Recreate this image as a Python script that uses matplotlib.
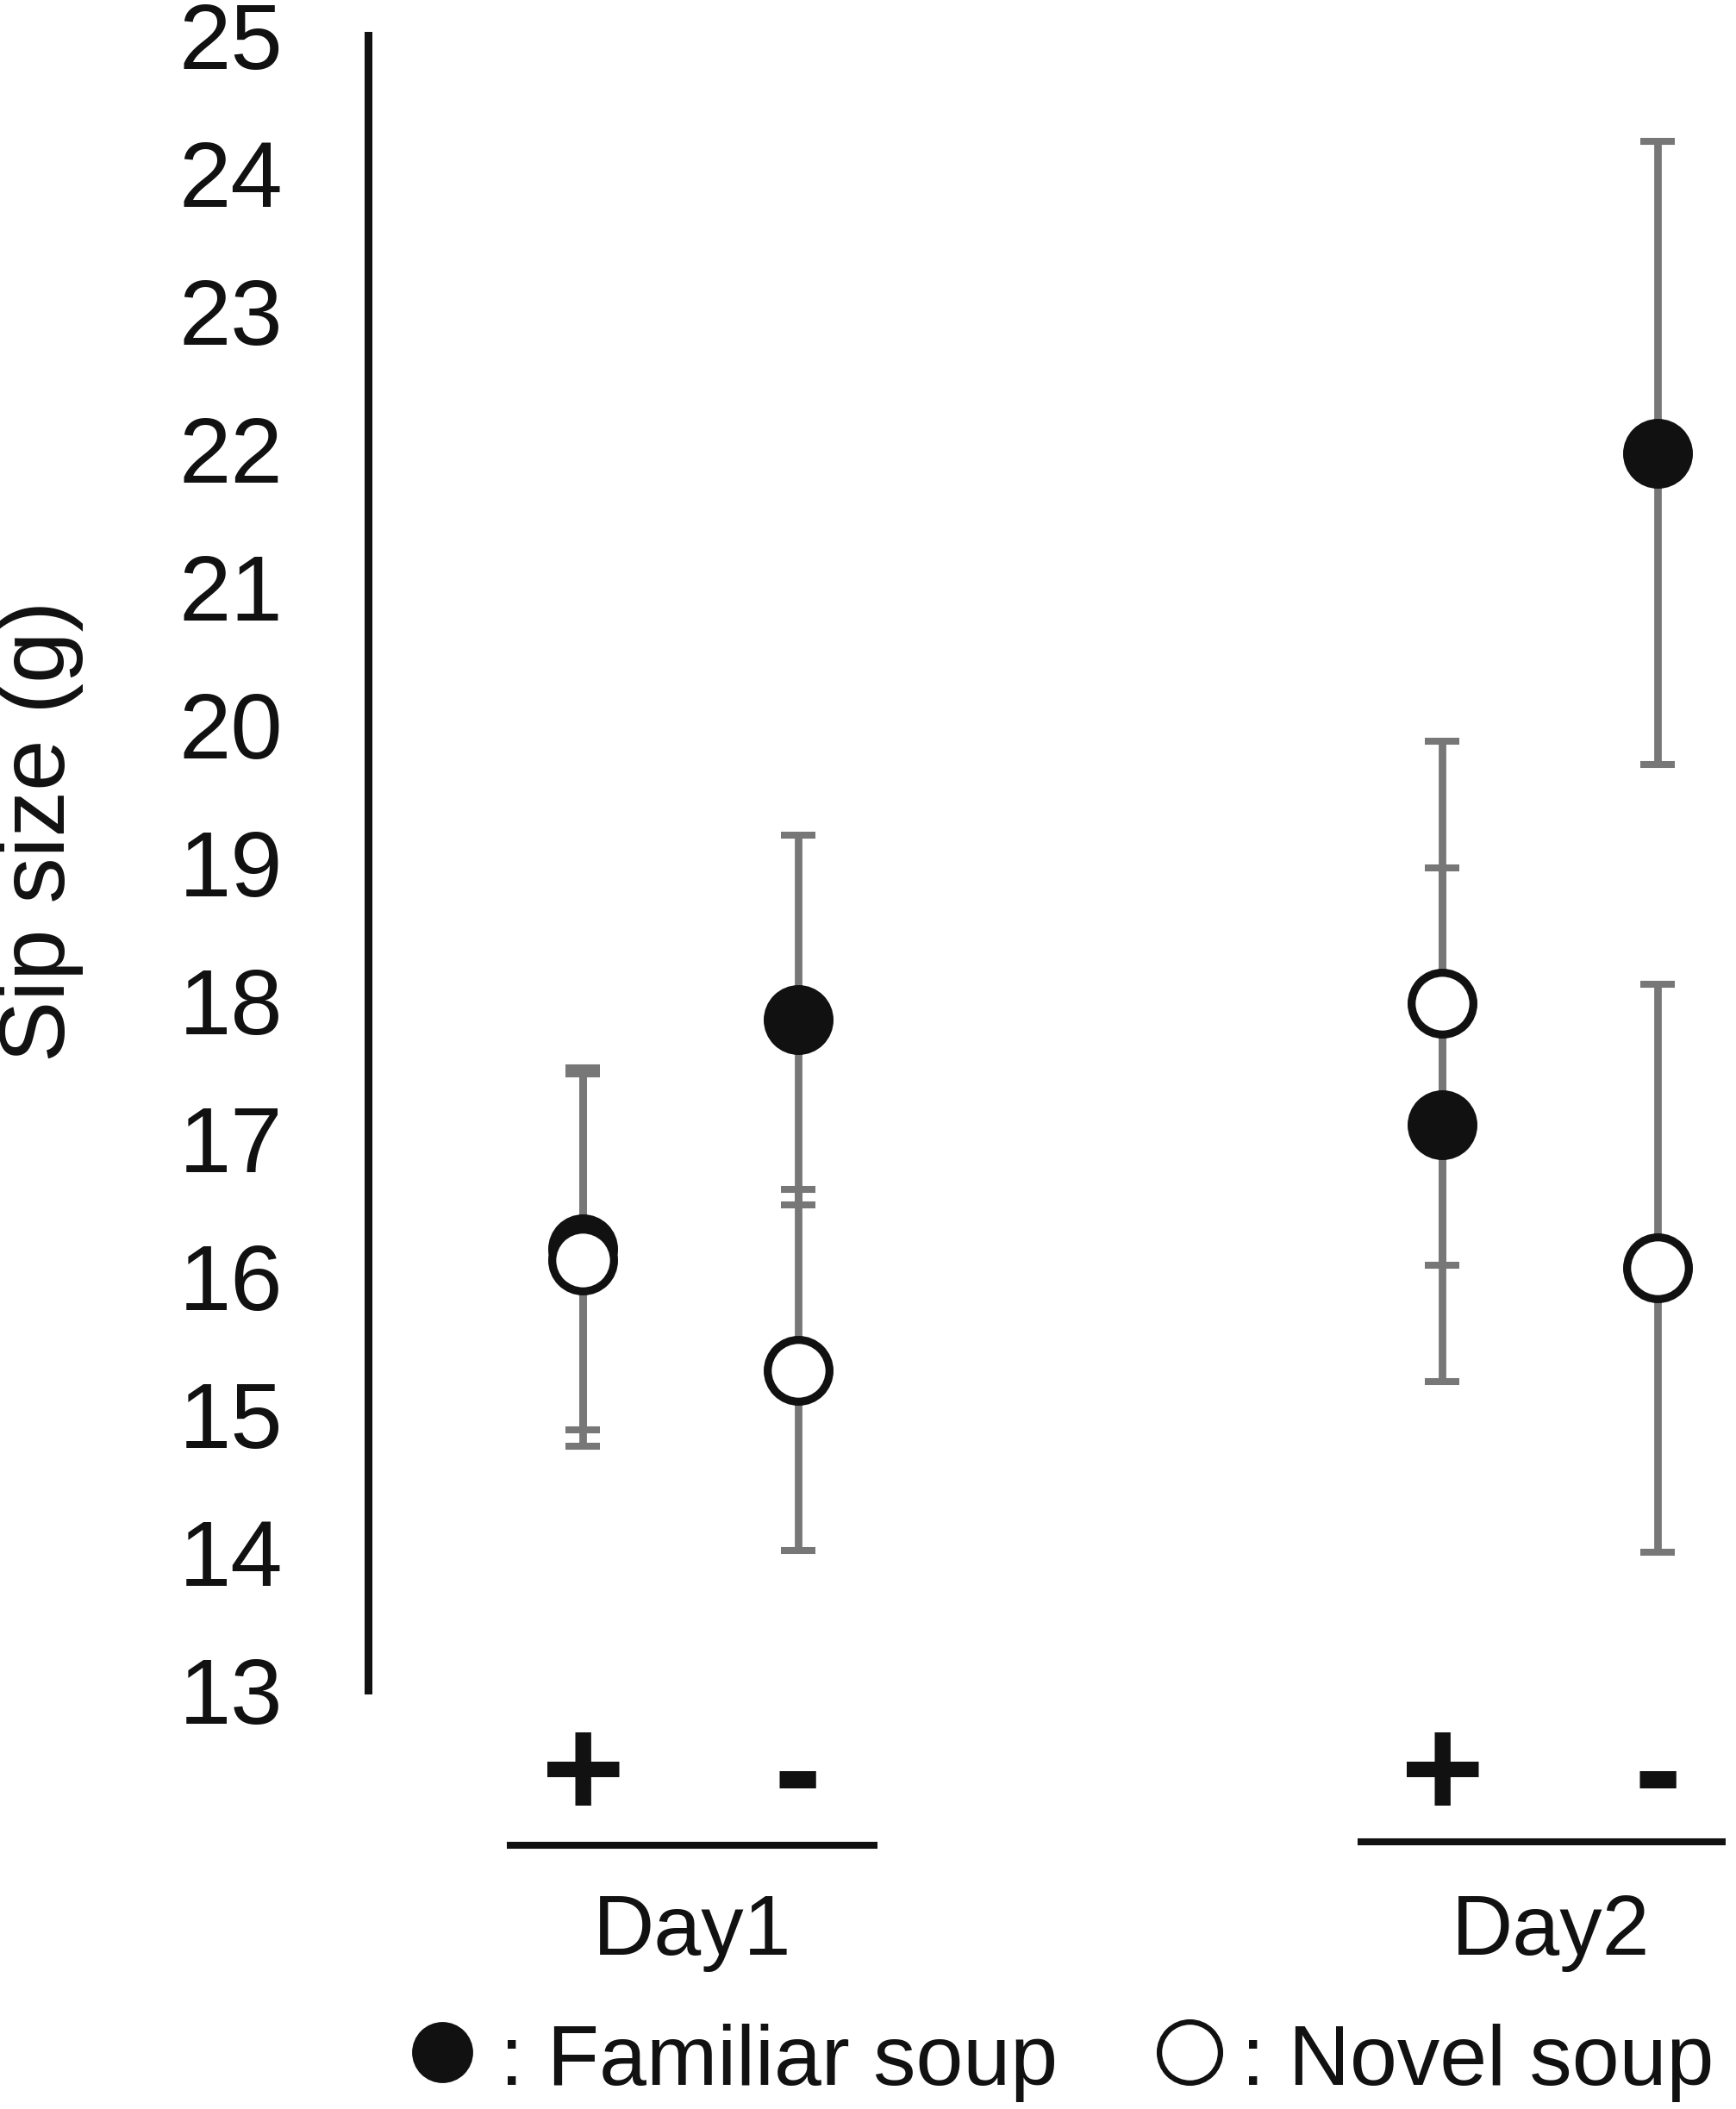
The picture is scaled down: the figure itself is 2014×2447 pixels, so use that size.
import matplotlib
matplotlib.use("Agg")
import matplotlib.pyplot as plt
from matplotlib.lines import Line2D
import matplotlib.transforms as mtransforms

plt.rcParams['font.family'] = ['Liberation Sans', 'DejaVu Sans']

# ---- data ----
positions = [1, 2, 5, 6]              # Day1 +, Day1 -, Day2 +, Day2 -
cond_labels = ['+', '-', '+', '-']
days = ['Day1', 'Day2']
familiar_mean = [16.20, 17.86, 17.10, 21.97]
familiar_err = [1.31, 1.34, 1.86, 2.26]
novel_mean = [16.12, 15.32, 17.98, 16.06]
novel_err = [1.35, 1.31, 1.90, 2.06]
yticks = list(range(13, 26))

W, H = 2015, 2447
fig = plt.figure(figsize=(W / 100, H / 100), dpi=100)
ax_left = 427 / W
ax_bottom = 1 - 1961 / H
ax_top = 1 - 41 / H
ax = fig.add_axes([ax_left, ax_bottom, 1 - ax_left, ax_top - ax_bottom])
ax.set_xlim(0, 6.37)
ax.set_ylim(13, 25)

BLACK = '#111111'
GREY = '#777777'

for sp in ['top', 'right', 'bottom']:
    ax.spines[sp].set_visible(False)
ax.spines['left'].set_linewidth(6.5)
ax.spines['left'].set_color(BLACK)
ax.set_xticks([])
ax.set_yticks(yticks)
ax.set_yticklabels([str(t) for t in yticks])
ax.tick_params(axis='y', length=0, pad=71, labelsize=78, labelcolor=BLACK)

# y-axis title
fig.text(47 / W, 1 - 964 / H, 'Sip size (g)', rotation=90, ha='center',
         va='center', fontsize=77, color=BLACK)

# error bars
ekw = dict(fmt='none', ecolor=GREY, elinewidth=6.3, capsize=14.4, capthick=5.8, zorder=1)
ax.errorbar(positions, familiar_mean, yerr=familiar_err, **ekw)
ax.errorbar(positions, novel_mean, yerr=novel_err, **ekw)

# markers
ax.plot(positions, familiar_mean, 'o', ms=51.6, mfc=BLACK, mec=BLACK, mew=6.7,
        ls='none', zorder=3, clip_on=False)
ax.plot(positions, novel_mean, 'o', ms=51.6, mfc='white', mec=BLACK, mew=6.7,
        ls='none', zorder=4, clip_on=False)

# condition labels (+ / -)
trans = mtransforms.blended_transform_factory(ax.transData, fig.transFigure)
for p, lab in zip(positions, cond_labels):
    ax.text(p, 1 - 2108 / H, lab, transform=trans, ha='center', va='baseline',
            fontsize=120, fontweight='bold', color=BLACK, clip_on=False)

# group underlines and day labels
line_spans = [(0.647, 2.371), (4.605, 6.317)]
line_y = [2141, 2137]
day_x = [803, 1799]
for (x0, x1), ly, d, dx in zip(line_spans, line_y, days, day_x):
    ax.plot([x0, x1], [1 - ly / H] * 2, transform=trans, color=BLACK, lw=5.8,
            solid_capstyle='butt', clip_on=False)
    fig.text(dx / W, 1 - 2268 / H, d, ha='center', va='baseline', fontsize=71,
             color=BLACK)

# legend
leg_y = 1 - 2381 / H
fig.add_artist(Line2D([513 / W], [leg_y], marker='o', ms=51, mfc=BLACK, mec=BLACK,
                      mew=0, ls='none', transform=fig.transFigure))
fig.text(580 / W, 1 - 2419 / H, ': Familiar soup', ha='left', va='baseline',
         fontsize=71, color=BLACK)
fig.add_artist(Line2D([1380 / W], [leg_y], marker='o', ms=51, mfc='white', mec=BLACK,
                      mew=4.5, ls='none', transform=fig.transFigure))
fig.text(1440 / W, 1 - 2419 / H, ': Novel soup', ha='left', va='baseline',
         fontsize=71, color=BLACK)

fig.savefig('out.png', dpi=100, facecolor='white')
